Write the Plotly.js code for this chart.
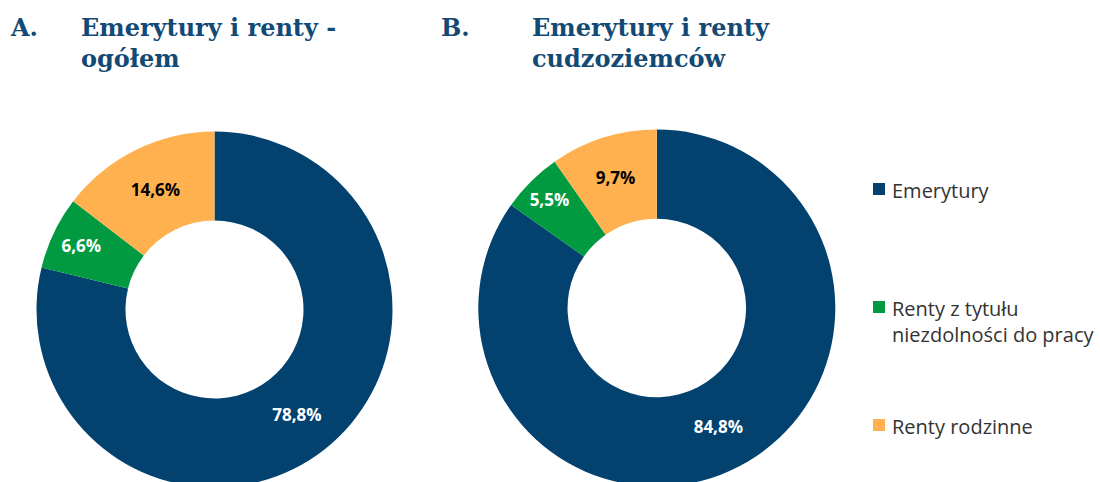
<!DOCTYPE html>
<html><head><meta charset="utf-8">
<script src="https://cdn.plot.ly/plotly-3.0.1.min.js"></script>
<style>html,body{margin:0;padding:0;overflow:hidden;background:#fff}</style>
</head><body><div id="chart" style="width:1100px;height:500px"></div>
<script>
const categories = ['Emerytury', 'Renty z tytułu niezdolności do pracy', 'Renty rodzinne'];
const legendLabels = ['Emerytury', 'Renty z tytułu<br>niezdolności do pracy', 'Renty rodzinne'];
const valuesA = [78.8, 6.6, 14.6];
const valuesB = [84.8, 5.5, 9.7];
const panelLetters = ['A.', 'B.'];
const panelTitles = ['Emerytury i renty -<br>ogółem', 'Emerytury i renty<br>cudzoziemców'];
const colors = ['#03426f', '#019a40', '#ffb150'];
const textColors = ['#ffffff', '#ffffff', '#000000'];

const W = 1100, H = 500;
const px = x => x / W;
const py = y => 1 - y / H;

function pieTrace(values, cx, cy, r) {
  return {
    type: 'pie', values: values, labels: categories, hole: 0.5,
    sort: false, direction: 'clockwise', rotation: 0,
    marker: {colors: colors, line: {width: 0}},
    texttemplate: '%{value:.1f}%', textposition: 'inside',
    insidetextorientation: 'horizontal',
    textfont: {family: 'Open Sans', size: 17, color: textColors, weight: 'bold'},
    domain: {x: [px(cx - r), px(cx + r)], y: [py(cy + r), py(cy - r)]},
    showlegend: false, hoverinfo: 'label+value'
  };
}

const data = [pieTrace(valuesA, 214.5, 309.5, 178), pieTrace(valuesB, 656.8, 308, 178.5)];

const titleFont = {family: 'DejaVu Serif', size: 24, color: '#124a75', weight: 'bold'};
const annotations = [];
const letterX = [8, 439], titleX = [79, 530];
for (let i = 0; i < 2; i++) {
  annotations.push({xref: 'paper', yref: 'paper', x: px(letterX[i]), y: py(11), xanchor: 'left', yanchor: 'top',
    text: panelLetters[i], showarrow: false, font: titleFont, align: 'left'});
  annotations.push({xref: 'paper', yref: 'paper', x: px(titleX[i]), y: py(11), xanchor: 'left', yanchor: 'top',
    text: panelTitles[i], showarrow: false, font: titleFont, align: 'left'});
}
const legendY = [189, 307, 425];
const legendFont = {family: 'Open Sans', size: 20, color: '#333333'};
const shapes = [];
for (let i = 0; i < 3; i++) {
  shapes.push({type: 'rect', xref: 'paper', yref: 'paper', x0: px(873), x1: px(885),
    y0: py(legendY[i] + 6), y1: py(legendY[i] - 6), fillcolor: colors[i], line: {width: 0}});
  annotations.push({xref: 'paper', yref: 'paper', x: px(890), y: py(legendY[i] - 14), xanchor: 'left', yanchor: 'top',
    text: legendLabels[i], showarrow: false, font: legendFont, align: 'left'});
}

const layout = {
  width: W, height: H, margin: {l: 0, r: 0, t: 0, b: 0},
  paper_bgcolor: '#ffffff', plot_bgcolor: '#ffffff',
  separators: ', ', showlegend: false,
  annotations: annotations, shapes: shapes
};
Plotly.newPlot('chart', data, layout, {displayModeBar: false, staticPlot: true});
</script></body></html>
